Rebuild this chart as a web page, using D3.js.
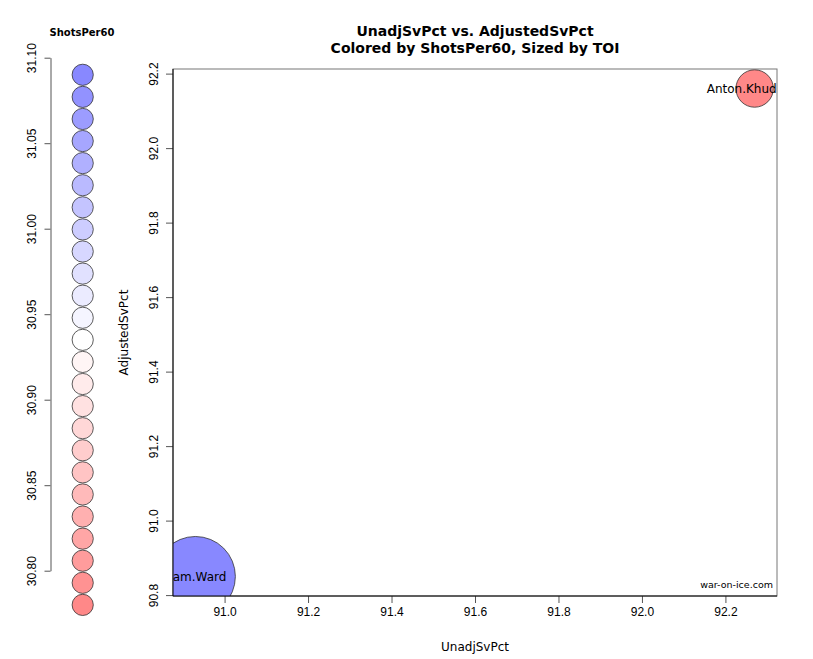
<!DOCTYPE html>
<html>
<head>
<meta charset="utf-8">
<script src="https://cdn.jsdelivr.net/npm/d3@7"></script>
<style>
  body { margin: 0; background: #fff; }
  svg { font-family: "DejaVu Sans", sans-serif; }
</style>
</head>
<body>
<div id="chart"></div>
<script>
'use strict';

// Data
var players = ['Cam.Ward', 'Anton.Khudobin']
var unadjSvPct = [90.93, 92.27]
var adjustedSvPct = [90.85, 92.16]
var shotsPer60 = [31.09, 30.78]
var toi = [3000, 655]

var xTicks = [91.0, 91.2, 91.4, 91.6, 91.8, 92.0, 92.2]
var yTicks = [90.8, 91.0, 91.2, 91.4, 91.6, 91.8, 92.0, 92.2]
var legendTicks = [30.80, 30.85, 30.90, 30.95, 31.00, 31.05, 31.10]
var legendSteps = 25

var W = 813, H = 659
var margin = {top: 69, right: 36, bottom: 63, left: 173}
var width = W - margin.left - margin.right
var height = H - margin.top - margin.bottom

var svg = d3.select('#chart').append('svg')
    .attr('width', W)
    .attr('height', H)

// R-style 4% padding on the ranges
function padded(vals) {
  var e = d3.extent(vals), d = (e[1] - e[0]) * 0.04
  return [e[0] - d, e[1] + d]
}

var x = d3.scaleLinear().domain(padded(unadjSvPct)).range([0, width])
var y = d3.scaleLinear().domain(padded(adjustedSvPct)).range([height, 0])
var size = d3.scaleSqrt().domain([0, d3.max(toi)]).range([0, 40])

var spExtent = d3.extent(shotsPer60)
var color = d3.scaleLinear()
  .domain([spExtent[0], (spExtent[0] + spExtent[1]) / 2, spExtent[1]])
  .range(['#ff8888', '#ffffff', '#8888ff'])

var g = svg.append('g')
    .attr('transform', 'translate(' + margin.left + ',' + margin.top + ')')

g.append('clipPath').attr('id', 'plot-clip')
  .append('rect')
    .attr('width', width)
    .attr('height', height)

// Box
g.append('rect')
    .attr('width', width)
    .attr('height', height)
    .style('fill', 'none')
    .style('stroke', '#777')

var rows = players.map(function(p, i) {
  return {name: p, x: unadjSvPct[i], y: adjustedSvPct[i], sp: shotsPer60[i], toi: toi[i]}
})

var plot = g.append('g').attr('clip-path', 'url(#plot-clip)')

plot.selectAll('circle.bubble')
    .data(rows)
  .enter().append('circle')
    .attr('class', 'bubble')
    .attr('cx', function(d) { return x(d.x) })
    .attr('cy', function(d) { return y(d.y) })
    .attr('r', function(d) { return size(d.toi) })
    .style('fill', function(d) { return color(d.sp) })
    .style('stroke', '#333')
    .style('stroke-width', 0.8)

plot.selectAll('text.name')
    .data(rows)
  .enter().append('text')
    .attr('class', 'name')
    .attr('x', function(d) { return x(d.x) })
    .attr('y', function(d) { return y(d.y) })
    .attr('dy', '0.36em')
    .attr('text-anchor', 'middle')
    .style('font-size', '12px')
    .text(function(d) { return d.name })

// Axes
var xAxis = g.append('g')
    .attr('transform', 'translate(0,' + height + ')')
    .call(d3.axisBottom(x).tickValues(xTicks).tickSize(7).tickSizeOuter(0).tickPadding(4)
      .tickFormat(d3.format('.1f')))
xAxis.select('.domain').remove()
xAxis.append('line').attr('x1', 0).attr('x2', width).style('stroke', '#000')
xAxis.selectAll('text').style('font-size', '12px').style('fill', '#000')
xAxis.selectAll('.tick line').style('stroke', '#555')

var yAxis = g.append('g')
    .call(d3.axisLeft(y).tickValues(yTicks).tickSize(7).tickSizeOuter(0)
      .tickFormat(d3.format('.1f')))
yAxis.select('.domain').remove()
yAxis.append('line').attr('y1', 0).attr('y2', height).style('stroke', '#000')
yAxis.selectAll('.tick line').style('stroke', '#555')
yAxis.selectAll('text')
    .attr('x', null).attr('dy', null)
    .attr('transform', 'translate(-15,0) rotate(-90)')
    .attr('text-anchor', 'middle')
    .style('font-size', '12px')
    .style('fill', '#000')

// Credit
g.append('text')
    .attr('x', width - 4)
    .attr('y', height - 8)
    .attr('text-anchor', 'end')
    .style('font-size', '9.5px')
    .text('war-on-ice.com')

// Titles
svg.append('text')
    .attr('x', margin.left + width / 2)
    .attr('y', 36)
    .attr('text-anchor', 'middle')
    .style('font-size', '14px')
    .style('font-weight', 'bold')
    .text('UnadjSvPct vs. AdjustedSvPct')

svg.append('text')
    .attr('x', margin.left + width / 2)
    .attr('y', 53)
    .attr('text-anchor', 'middle')
    .style('font-size', '14px')
    .style('font-weight', 'bold')
    .text('Colored by ShotsPer60, Sized by TOI')

svg.append('text')
    .attr('x', margin.left + width / 2)
    .attr('y', 651)
    .attr('text-anchor', 'middle')
    .style('font-size', '12px')
    .text('UnadjSvPct')

svg.append('text')
    .attr('transform', 'translate(128,' + (margin.top + height / 2) + ') rotate(-90)')
    .attr('text-anchor', 'middle')
    .style('font-size', '12px')
    .text('AdjustedSvPct')

// Legend
var ly = d3.scaleLinear().domain([30.80, 31.10]).range([570.7, 57.7])
var legendVals = d3.range(legendSteps).map(function(i) {
  return spExtent[1] - i * (spExtent[1] - spExtent[0]) / (legendSteps - 1)
})

svg.append('text')
    .attr('x', 82)
    .attr('y', 36)
    .attr('text-anchor', 'middle')
    .style('font-size', '10px')
    .style('font-weight', 'bold')
    .text('ShotsPer60')

var lAxis = svg.append('g')
    .attr('transform', 'translate(50.5,0)')
    .call(d3.axisLeft(ly).tickValues(legendTicks).tickSize(6).tickSizeOuter(0)
      .tickFormat(d3.format('.2f')))
lAxis.select('.domain').style('stroke', '#555')
lAxis.selectAll('.tick line').style('stroke', '#555')
lAxis.selectAll('text')
    .attr('x', null).attr('dy', null)
    .attr('transform', 'translate(-15,0) rotate(-90)')
    .attr('text-anchor', 'middle')
    .style('font-size', '12px')
    .style('fill', '#000')

svg.selectAll('circle.legend')
    .data(legendVals)
  .enter().append('circle')
    .attr('class', 'legend')
    .attr('cx', 82.7)
    .attr('cy', function(d) { return ly(d) })
    .attr('r', 10.6)
    .style('fill', function(d) { return color(d) })
    .style('stroke', '#333')
    .style('stroke-width', 0.8)
</script>
</body>
</html>
